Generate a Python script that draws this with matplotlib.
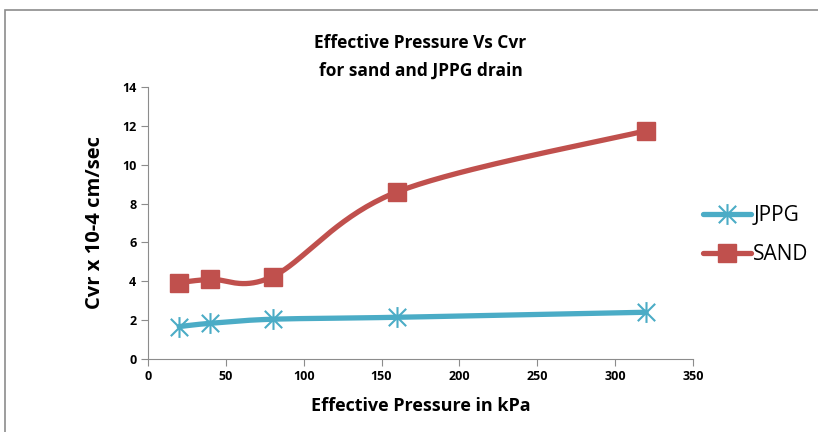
import numpy as np
import matplotlib.pyplot as plt
from matplotlib.patches import Rectangle
from matplotlib.path import Path

pressure = [20, 40, 80, 160, 320]
jppg = [1.65, 1.82, 2.03, 2.13, 2.39]
sand = [3.92, 4.09, 4.23, 8.6, 11.76]

plt.rcParams['font.family'] = ['Open Sans', 'DejaVu Sans']


def smooth(x, y, n=40):
    # excel-like smoothed line (catmull-rom style bezier)
    x = np.asarray(x, float)
    y = np.asarray(y, float)
    px = np.concatenate([[x[0]], x, [x[-1]]])
    py = np.concatenate([[y[0]], y, [y[-1]]])
    xs, ys = [], []
    t = np.linspace(0, 1, n)
    for i in range(1, len(px) - 2):
        p0 = np.array([px[i], py[i]])
        p3 = np.array([px[i + 1], py[i + 1]])
        p1 = p0 + (np.array([px[i + 1], py[i + 1]]) - np.array([px[i - 1], py[i - 1]])) / 6
        p2 = p3 - (np.array([px[i + 2], py[i + 2]]) - np.array([px[i], py[i]])) / 6
        b = ((1 - t) ** 3)[:, None] * p0 + (3 * (1 - t) ** 2 * t)[:, None] * p1 \
            + (3 * (1 - t) * t ** 2)[:, None] * p2 + (t ** 3)[:, None] * p3
        xs.extend(b[:, 0])
        ys.extend(b[:, 1])
    return xs, ys


# excel style star: x plus a vertical bar
star = Path([(-1, -1), (1, 1), (-1, 1), (1, -1), (0, -1.2), (0, 1.2)],
            [Path.MOVETO, Path.LINETO, Path.MOVETO, Path.LINETO, Path.MOVETO, Path.LINETO])

fig = plt.figure(figsize=(8.18, 4.32), dpi=100)
fig.patches.append(Rectangle((5 / 818, -0.1), 1.2, 1 - 10 / 432 + 0.1, transform=fig.transFigure,
                             fill=False, edgecolor='#8c8c8c', linewidth=1.2))
ax = fig.add_axes([0.181, 0.170, 0.666, 0.628])

blue = '#4BACC6'
red = '#C0504D'

sx, sy = smooth(pressure, jppg)
ax.plot(sx, sy, color=blue, lw=3.8, solid_capstyle='round')
ax.plot(pressure, jppg, ls='none', marker=star, ms=15, mec=blue, mew=1.5)
sx, sy = smooth(pressure, sand)
ax.plot(sx, sy, color=red, lw=3.8, solid_capstyle='round')
ax.plot(pressure, sand, ls='none', marker='s', ms=13, color=red)

# legend handles
ax.plot([], [], color=blue, lw=3.8, marker=star, ms=15, mew=1.5, label='JPPG')
ax.plot([], [], color=red, lw=3.8, marker='s', ms=13, label='SAND')
leg = ax.legend(loc='center left', bbox_to_anchor=(0.985, 0.455), frameon=False, fontsize=15,
                handlelength=2.3, handletextpad=0.1, labelspacing=0.85)
for h in leg.legend_handles:
    h.set_solid_capstyle('round')

ax.set_xlim(0, 350)
ax.set_ylim(0, 14)
ax.set_xticks(range(0, 351, 50))
ax.set_yticks(range(0, 15, 2))
for s in ['top', 'right']:
    ax.spines[s].set_visible(False)
for s in ['left', 'bottom']:
    ax.spines[s].set_color('#8c8c8c')
ax.tick_params(colors='#8c8c8c', labelcolor='black', direction='out', length=5, labelsize=9)
for lab in ax.get_xticklabels() + ax.get_yticklabels():
    lab.set_fontweight('bold')

ax.set_title('Effective Pressure Vs Cvr\nfor sand and JPPG drain', fontsize=12.5, fontweight='bold',
             pad=8, linespacing=1.7)
ax.set_xlabel('Effective Pressure in kPa', fontsize=13, fontweight='bold', labelpad=10)
ax.set_ylabel('Cvr x 10-4 cm/sec', fontsize=14.5, fontweight='bold', labelpad=12)

fig.savefig('out.png', dpi=100)
